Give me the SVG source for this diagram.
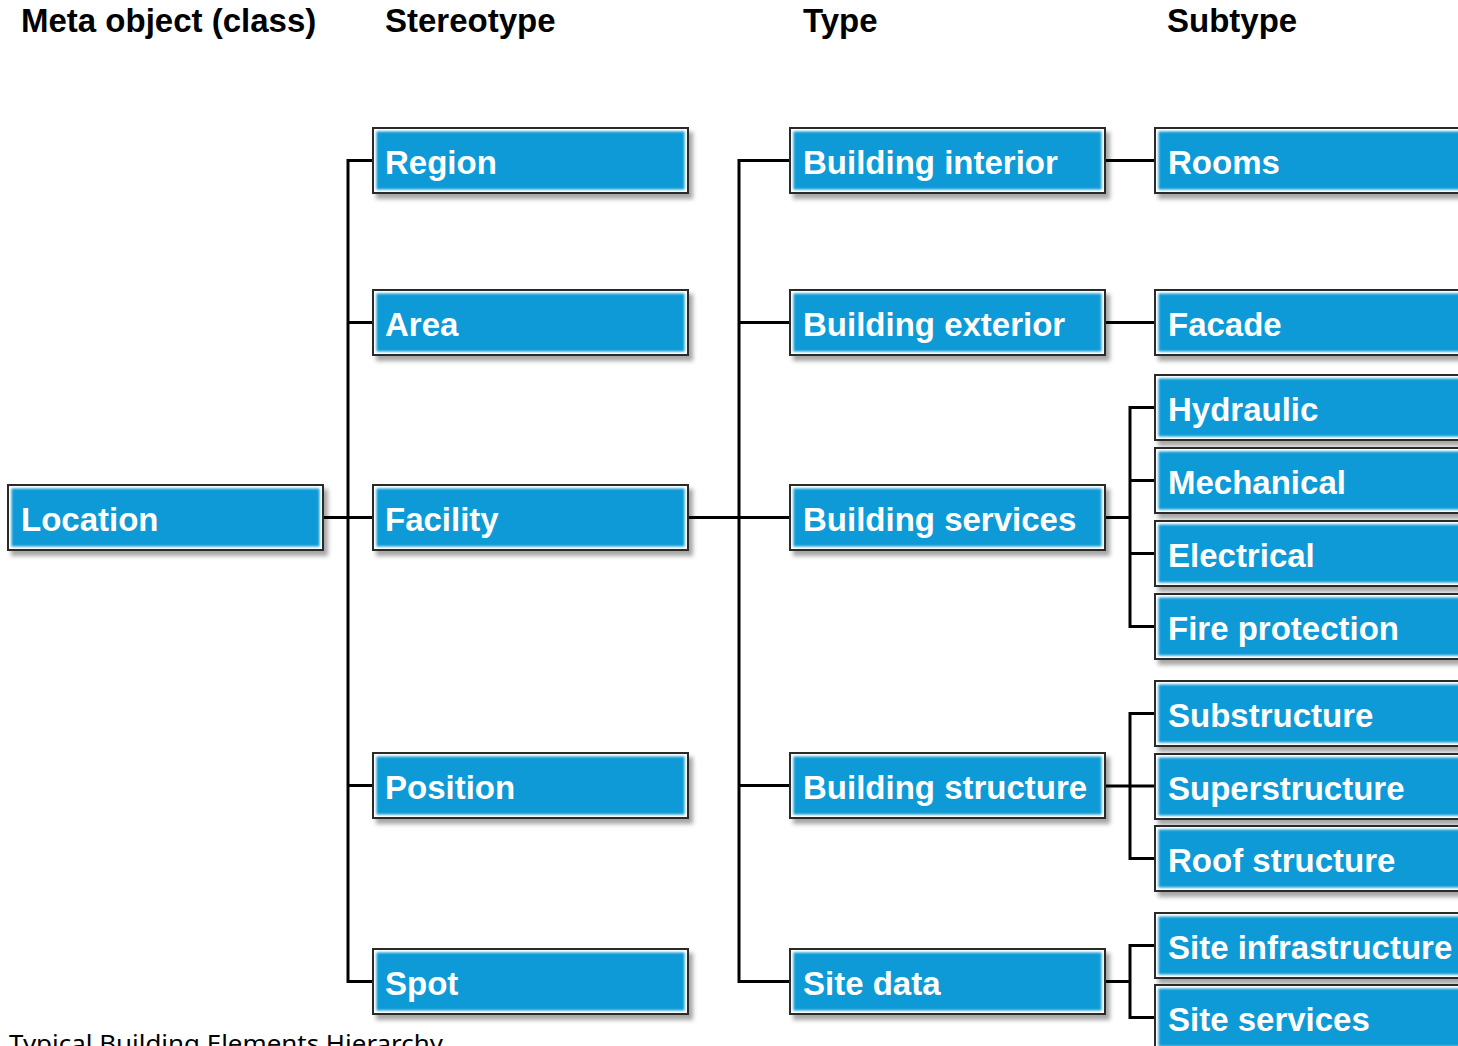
<svg xmlns="http://www.w3.org/2000/svg" width="1458" height="1046" viewBox="0 0 1458 1046">
<defs>
<filter id="sh" x="-5%" y="-20%" width="115%" height="150%">
<feDropShadow dx="4" dy="5" stdDeviation="2" flood-color="#000" flood-opacity="0.35"/>
</filter>
<filter id="soft" x="-2%" y="-5%" width="104%" height="110%">
<feGaussianBlur stdDeviation="0.9"/>
</filter>
<g id="box">
<rect x="0" y="0" width="315" height="65" fill="#fff" stroke="#2a2a2a" stroke-width="2" filter="url(#sh)"/>
<rect x="3.5" y="3.5" width="308" height="58" fill="#0d9ad6" filter="url(#soft)"/>
</g>
</defs>
<style>
.hd{font-family:"Liberation Sans",Arial,sans-serif;font-weight:bold;font-size:33px;fill:#000}
.lb{font-family:"Liberation Sans",Arial,sans-serif;font-weight:bold;font-size:33px;fill:#fff}
.cn{fill:none;stroke:#000;stroke-width:3;stroke-linejoin:miter}
.cap{font-family:"Noto Sans","Open Sans",sans-serif;font-size:23px;fill:#000}
</style>
<rect width="1458" height="1046" fill="#fff"/>
<g id="headers">
<text class="hd" x="21" y="32">Meta object (class)</text>
<text class="hd" x="385" y="32">Stereotype</text>
<text class="hd" x="803" y="32">Type</text>
<text class="hd" x="1167" y="32">Subtype</text>
</g>
<g id="connectors" class="cn">
<path d="M323,517.5 H373"/>
<path d="M373,160.5 H348 V981.5 H373 M348,322.5 H373 M348,785.5 H373"/>
<path d="M688,517.5 H790"/>
<path d="M790,160.5 H739 V981.5 H790 M739,322.5 H790 M739,785.5 H790"/>
<path d="M1105,160.5 H1155 M1105,322.5 H1155"/>
<path d="M1105,517.5 H1130 M1155,407.5 H1130 V626.5 H1155 M1130,480.5 H1155 M1130,553.5 H1155"/>
<path d="M1105,786 H1155 M1155,713.5 H1130 V858.5 H1155"/>
<path d="M1105,981.5 H1130 M1155,945.5 H1130 V1017.5 H1155"/>
</g>
<g id="n-location"><use href="#box" x="8" y="485"/><text class="lb" x="21" y="531">Location</text></g>
<g id="n-region"><use href="#box" x="373" y="128"/><text class="lb" x="385" y="174">Region</text></g>
<g id="n-area"><use href="#box" x="373" y="290"/><text class="lb" x="385" y="336">Area</text></g>
<g id="n-facility"><use href="#box" x="373" y="485"/><text class="lb" x="385" y="531">Facility</text></g>
<g id="n-position"><use href="#box" x="373" y="753"/><text class="lb" x="385" y="799">Position</text></g>
<g id="n-spot"><use href="#box" x="373" y="949"/><text class="lb" x="385" y="995">Spot</text></g>
<g id="n-binterior"><use href="#box" x="790" y="128"/><text class="lb" x="803" y="174">Building interior</text></g>
<g id="n-bexterior"><use href="#box" x="790" y="290"/><text class="lb" x="803" y="336">Building exterior</text></g>
<g id="n-bservices"><use href="#box" x="790" y="485"/><text class="lb" x="803" y="531">Building services</text></g>
<g id="n-bstructure"><use href="#box" x="790" y="753"/><text class="lb" x="803" y="799">Building structure</text></g>
<g id="n-sitedata"><use href="#box" x="790" y="949"/><text class="lb" x="803" y="995">Site data</text></g>
<g id="n-rooms"><use href="#box" x="1155" y="128"/><text class="lb" x="1168" y="174">Rooms</text></g>
<g id="n-facade"><use href="#box" x="1155" y="290"/><text class="lb" x="1168" y="336">Facade</text></g>
<g id="n-hydraulic"><use href="#box" x="1155" y="375"/><text class="lb" x="1168" y="421">Hydraulic</text></g>
<g id="n-mechanical"><use href="#box" x="1155" y="448"/><text class="lb" x="1168" y="494">Mechanical</text></g>
<g id="n-electrical"><use href="#box" x="1155" y="521"/><text class="lb" x="1168" y="567">Electrical</text></g>
<g id="n-fire"><use href="#box" x="1155" y="594"/><text class="lb" x="1168" y="640">Fire protection</text></g>
<g id="n-substructure"><use href="#box" x="1155" y="681"/><text class="lb" x="1168" y="727">Substructure</text></g>
<g id="n-superstructure"><use href="#box" x="1155" y="754"/><text class="lb" x="1168" y="800">Superstructure</text></g>
<g id="n-roof"><use href="#box" x="1155" y="826"/><text class="lb" x="1168" y="872">Roof structure</text></g>
<g id="n-siteinfra"><use href="#box" x="1155" y="913"/><text class="lb" x="1168" y="959">Site infrastructure</text></g>
<g id="n-siteservices"><use href="#box" x="1155" y="985"/><text class="lb" x="1168" y="1031">Site services</text></g>
<g id="caption"><text class="cap" x="9" y="1052" textLength="434" lengthAdjust="spacingAndGlyphs">Typical Building Elements Hierarchy</text></g>
</svg>
